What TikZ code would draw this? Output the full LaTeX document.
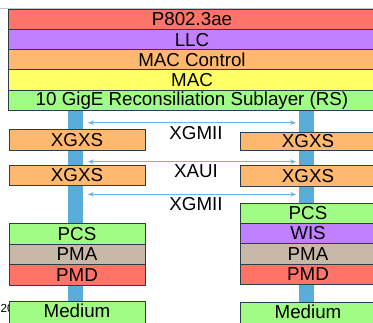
\documentclass[tikz,border=0pt]{standalone}
\usepackage{fontspec}
\setmainfont{Liberation Sans}
\usetikzlibrary{arrows.meta}

\definecolor{boxline}{HTML}{2E3B48}
\definecolor{redfill}{HTML}{FF7468}
\definecolor{purplefill}{HTML}{C080FF}
\definecolor{orangefill}{HTML}{FFB870}
\definecolor{yellowfill}{HTML}{FFFF66}
\definecolor{greenfill}{HTML}{A0FC84}
\definecolor{tanfill}{HTML}{C8B8A8}
\definecolor{barblue}{HTML}{58AED8}
\definecolor{linkblue}{HTML}{6AB8E0}
\definecolor{rulegray}{HTML}{BCC8C8}

\tikzset{
  stackbox/.style={draw=boxline, line width=0.6pt, inner sep=0pt,
    minimum height=0.61cm, font=\fontsize{16}{17}\selectfont},
  topbox/.style={stackbox, minimum width=11.04cm},
  sidebox/.style={stackbox, minimum width=4.08cm},
  mediumbox/.style={sidebox, fill=greenfill, minimum height=0.66cm, text depth=3.5pt},
  link/.style={draw=linkblue, line width=0.7pt,
    {Stealth[length=5pt,width=4pt]}-{Stealth[length=5pt,width=4pt]}},
  iface/.style={font=\fontsize{16}{17}\selectfont}
}

\begin{document}
\begin{tikzpicture}[x=0.03cm,y=-0.03cm]
\useasboundingbox (0,0) rectangle (373,322);
\clip (0,0) rectangle (373,322);

\draw[rulegray, line width=0.8pt] (0,8) -- (373,8);
\node[anchor=west, font=\fontsize{10}{11}\selectfont, inner sep=0pt] (year) at (0.5,308) {20};

% blue paths down both sides
\fill[barblue] (68,110) rectangle (83,303);
\fill[barblue] (299,110) rectangle (314,303);

% upper layers
\node[topbox, fill=redfill] (p8023) at (192,19.4) {P802.3ae};
\node[topbox, fill=purplefill] (llc) at (192,39.6) {LLC};
\node[topbox, fill=orangefill] (macctl) at (192,59.8) {MAC Control};
\node[topbox, fill=yellowfill] (mac) at (192,80) {MAC};
\node[topbox, fill=greenfill] (rs) at (192,100.2) {10 GigE Reconsiliation Sublayer (RS)};

% left side
\node[sidebox, fill=orangefill] (lxgxs1) at (77,139.7) {XGXS};
\node[sidebox, fill=orangefill] (lxgxs2) at (77,175.5) {XGXS};
\node[sidebox, fill=greenfill] (lpcs) at (77,233.7) {PCS};
\node[sidebox, fill=tanfill] (lpma) at (77,254.3) {PMA};
\node[sidebox, fill=redfill] (lpmd) at (77,274.7) {PMD};
\node[mediumbox] (lmed) at (77,312.7) {Medium};

% right side
\node[sidebox, fill=orangefill, minimum height=0.53cm] (rxgxs1) at (308,141.2) {XGXS};
\node[sidebox, fill=orangefill] (rxgxs2) at (308,175.8) {XGXS};
\node[sidebox, fill=greenfill] (rpcs) at (308,213.3) {PCS};
\node[sidebox, fill=purplefill] (rwis) at (308,233.4) {WIS};
\node[sidebox, fill=tanfill] (rpma) at (308,253.7) {PMA};
\node[sidebox, fill=redfill] (rpmd) at (308,274.5) {PMD};
\node[mediumbox] (rmed) at (308,313.3) {Medium};

% interfaces
\coordinate (x1l) at (88,122.7);
\coordinate (x1r) at (296,122.7);
\coordinate (x2l) at (88,161.7);
\coordinate (x2r) at (296,161.7);
\coordinate (x3l) at (88,194.3);
\coordinate (x3r) at (296,194.3);
\draw[link] (x1l) -- (x1r);
\draw[link] (x2l) -- (x2r);
\draw[link] (x3l) -- (x3r);

\node[iface] (xgmii1) at (196,133.5) {XGMII};
\node[iface] (xaui) at (196,171) {XAUI};
\node[iface] (xgmii2) at (196,204) {XGMII};
\end{tikzpicture}
\end{document}
